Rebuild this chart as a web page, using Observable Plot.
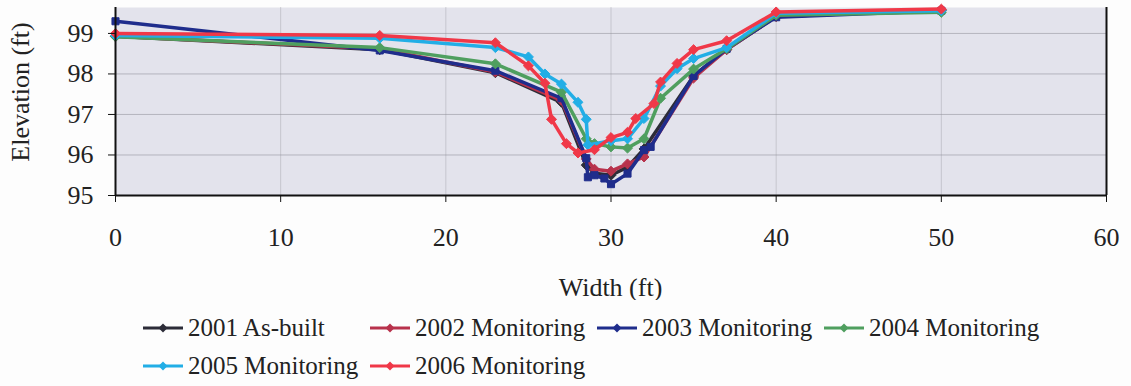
<!DOCTYPE html>
<html>
<head>
<meta charset="utf-8">
<script src="https://cdn.jsdelivr.net/npm/d3@7"></script>
<script src="https://cdn.jsdelivr.net/npm/@observablehq/plot@0.6"></script>
<style>
  html, body { margin: 0; padding: 0; background: #fdfdfd; }
  #wrap { position: relative; width: 1131px; height: 386px; overflow: hidden; }
  #legend { position: absolute; left: 143px; top: 309px; width: 910px; display: flex; flex-wrap: wrap; }
  .item { width: 227px; height: 38px; display: flex; align-items: center; color: #222; white-space: nowrap; }
  .item svg { margin-right: 5px; }
</style>
</head>
<body>
<div id="wrap"><div id="chart"></div><div id="legend"></div></div>
<script>
// ---- data ----
const seriesNames = ["2001 As-built", "2002 Monitoring", "2003 Monitoring", "2004 Monitoring", "2005 Monitoring", "2006 Monitoring"];
const seriesColors = ["#2c2c38", "#b8324c", "#1f2d8c", "#4f9f5f", "#22aee6", "#f03848"];
const seriesSymbols = ["diamond2", "diamond2", "square2", "diamond2", "diamond2", "diamond2"];

const x2001 = [0, 16, 23, 27, 28.5, 29, 30, 31, 32, 35, 37, 40, 50];
const y2001 = [98.93, 98.6, 98.03, 97.3, 95.75, 95.55, 95.5, 95.7, 96.15, 97.95, 98.6, 99.42, 99.58];

const x2002 = [0, 16, 23, 27, 28.5, 29, 30, 31, 32, 35, 37, 40, 50];
const y2002 = [98.93, 98.62, 98.05, 97.35, 95.9, 95.65, 95.6, 95.78, 95.95, 97.9, 98.6, 99.42, 99.57];

const x2003 = [0, 16, 23, 27, 28.5, 28.6, 29, 29.6, 30, 31, 32, 32.4, 35, 37, 40, 50];
const y2003 = [99.3, 98.58, 98.08, 97.4, 95.92, 95.45, 95.5, 95.42, 95.28, 95.54, 96.12, 96.2, 97.95, 98.62, 99.4, 99.56];

const x2004 = [0, 16, 23, 27, 28.5, 29, 30, 31, 32, 33, 35, 37, 40, 50];
const y2004 = [98.92, 98.65, 98.25, 97.55, 96.4, 96.28, 96.2, 96.17, 96.4, 97.4, 98.12, 98.62, 99.45, 99.52];

const x2005 = [0, 16, 23, 25, 26, 27, 28, 28.5, 28.6, 30, 31, 32, 33, 34, 35, 37, 40, 50];
const y2005 = [98.95, 98.88, 98.65, 98.42, 98.0, 97.75, 97.3, 96.88, 96.25, 96.35, 96.4, 96.9, 97.7, 98.13, 98.38, 98.65, 99.5, 99.56];

const x2006 = [0, 16, 23, 25, 26, 26.4, 27.3, 28, 29, 30, 31, 31.5, 32.6, 33, 34, 35, 37, 40, 50];
const y2006 = [99.0, 98.95, 98.77, 98.2, 97.77, 96.88, 96.28, 96.05, 96.13, 96.43, 96.56, 96.9, 97.27, 97.8, 98.26, 98.6, 98.82, 99.53, 99.6];

const xTicks = [0, 10, 20, 30, 40, 50, 60];
const yTicks = [95, 96, 97, 98, 99];
const xLabel = "Width (ft)";
const yLabel = "Elevation (ft)";

// ---- build table ----
const xs = [x2001, x2002, x2003, x2004, x2005, x2006];
const ys = [y2001, y2002, y2003, y2004, y2005, y2006];
const rows = [];
seriesNames.forEach((name, i) => {
  xs[i].forEach((x, j) => rows.push({series: name, x, y: ys[i][j]}));
});

const FONT = "Liberation Serif";
const W = 1131, H = 300;

const lineMarks = [];
seriesNames.forEach((name, i) => {
  const d = rows.filter(r => r.series === name);
  lineMarks.push(Plot.line(d, {x: "x", y: "y", stroke: seriesColors[i], strokeWidth: 3.5, strokeLinejoin: "round"}));
  lineMarks.push(Plot.dot(d, {x: "x", y: "y", fill: seriesColors[i], stroke: seriesColors[i], symbol: seriesSymbols[i], r: 4.5, strokeWidth: 1}));
});

const chart = Plot.plot({
  width: W,
  height: H,
  marginLeft: 115,
  marginRight: 25,
  marginTop: 7,
  marginBottom: 105,
  style: {background: "transparent"},
  x: {domain: [0, 60]},
  y: {domain: [95, 99.64]},
  marks: [
    Plot.frame({fill: "#e3e3ec", stroke: null}),
    Plot.gridY([96, 97, 98, 99], {stroke: "#8e8e98", strokeOpacity: 0.55, strokeWidth: 1}),
    Plot.gridX([10, 20, 30, 40, 50], {stroke: "#8e8e98", strokeOpacity: 0.35, strokeWidth: 1}),
    ...lineMarks,
    Plot.ruleX([0], {stroke: "#111", strokeWidth: 2}),
    Plot.ruleX([60], {stroke: "#111", strokeWidth: 2}),
    Plot.ruleY([95], {stroke: "#111", strokeWidth: 2}),
    Plot.axisX({ticks: xTicks, tickFormat: d => String(d), tickSize: 7, tickPadding: 25, fontSize: 26, fontFamily: FONT, label: null, stroke: "#111", color: "#222"}),
    Plot.axisY({ticks: yTicks, tickFormat: d => String(d), tickSize: 7, tickPadding: 15, fontSize: 26, fontFamily: FONT, label: null, stroke: "#111", color: "#222"})
  ]
});

const svg = d3.select(chart);
svg.append("text")
  .attr("x", (115 + (W - 25)) / 2).attr("y", 287)
  .attr("text-anchor", "middle").attr("dominant-baseline", "central")
  .attr("font-size", 26).attr("fill", "#222")
  .text(xLabel);
svg.append("text")
  .attr("transform", "translate(20,92) rotate(-90)")
  .attr("text-anchor", "middle").attr("dominant-baseline", "central")
  .attr("font-size", 26).attr("fill", "#222")
  .text(yLabel);
svg.selectAll("text, g").attr("font-family", FONT).style("font-family", FONT);

document.getElementById("chart").appendChild(chart);

// ---- legend ----
const legend = d3.select("#legend");
seriesNames.forEach((name, i) => {
  const item = legend.append("div").attr("class", "item");
  const s = item.append("svg").attr("width", 40).attr("height", 12);
  s.append("line").attr("x1", 0).attr("x2", 40).attr("y1", 6).attr("y2", 6)
    .attr("stroke", seriesColors[i]).attr("stroke-width", 3);
  s.append("path").attr("d", "M20,1.5L24.5,6L20,10.5L15.5,6Z").attr("fill", seriesColors[i]);
  item.append("span").style("font-family", FONT).style("font-size", "25px").text(name);
});
</script>
</body>
</html>
